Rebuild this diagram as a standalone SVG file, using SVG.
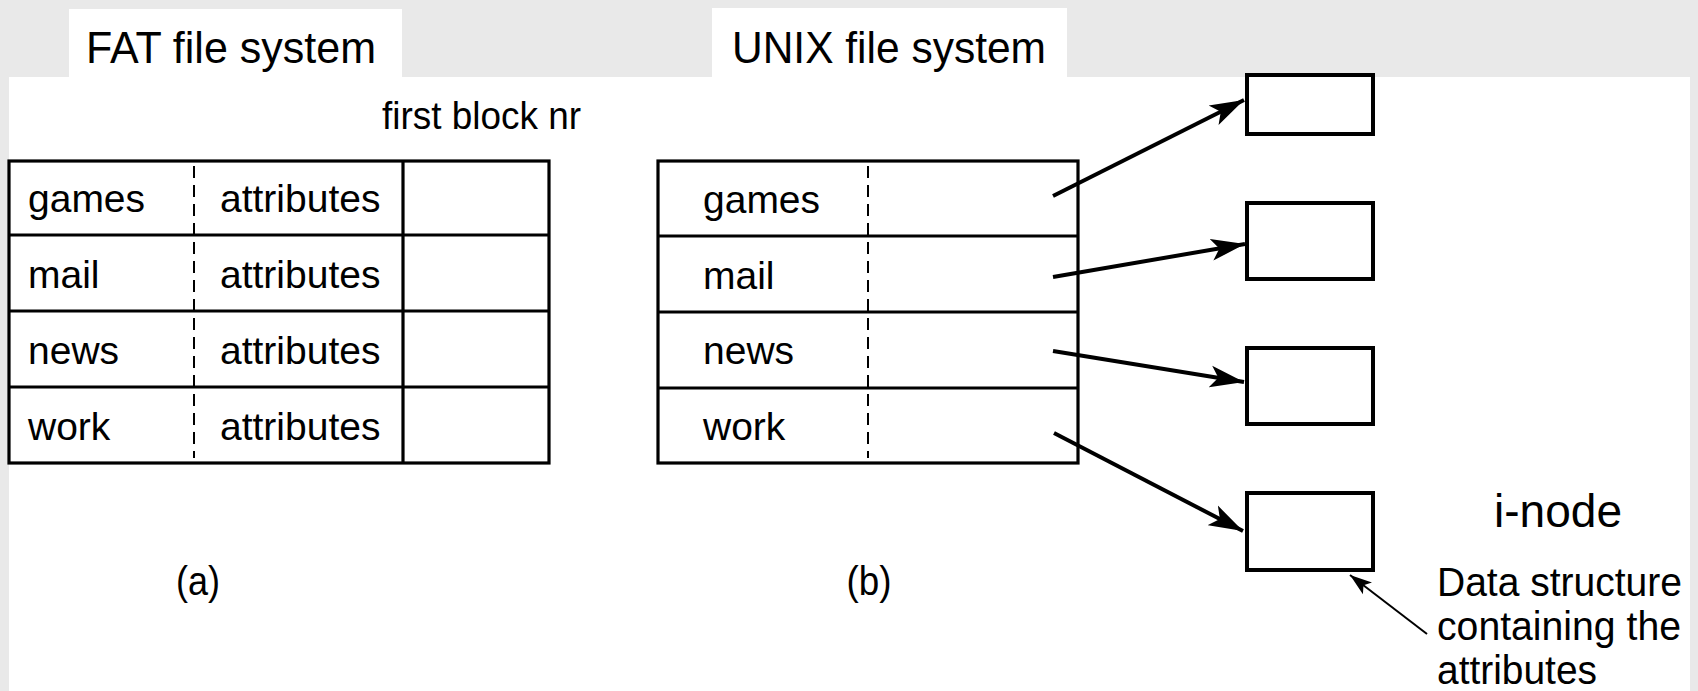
<svg xmlns="http://www.w3.org/2000/svg" width="1698" height="691" viewBox="0 0 1698 691">
<defs>
<style>
.bg{fill:#e9e9e9}
.panel{fill:#ffffff}
.t{font-family:"Liberation Sans",Arial,Helvetica,sans-serif;fill:#000}
.cell{fill:#fff;stroke:#000;stroke-width:3.2}
.grid{stroke:#000;stroke-width:3.2;fill:none}
.dash{stroke:#000;stroke-width:2;stroke-dasharray:12 7;fill:none}
.inode{fill:#fff;stroke:#000;stroke-width:4}
.arrow{stroke:#000;stroke-width:4;fill:none;marker-end:url(#headBig)}
.thin{stroke:#000;stroke-width:2;fill:none;marker-end:url(#headSmall)}
</style>
<marker id="headBig" markerUnits="userSpaceOnUse" markerWidth="36" markerHeight="24" refX="34" refY="11" orient="auto" viewBox="0 0 36 22">
<path d="M0,0 L34,11 L0,22 L8,11 z" fill="#000"/>
</marker>
<marker id="headSmall" markerUnits="userSpaceOnUse" markerWidth="24" markerHeight="16" refX="22" refY="7.5" orient="auto" viewBox="0 0 24 15">
<path d="M0,0 L22,7.5 L0,15 L5,7.5 z" fill="#000"/>
</marker>
</defs>
<rect class="bg" x="0" y="0" width="1698" height="691"/>
<rect class="panel" x="9" y="77" width="1681" height="614"/>

<g id="tab-fat">
<rect class="panel" x="69" y="9" width="333" height="69"/>
<text class="t" x="86" y="63" font-size="45" textLength="290" lengthAdjust="spacingAndGlyphs">FAT file system</text>
</g>
<g id="tab-unix">
<rect class="panel" x="712" y="8" width="355" height="70"/>
<text class="t" x="732" y="63" font-size="45" textLength="314" lengthAdjust="spacingAndGlyphs">UNIX file system</text>
</g>

<g id="label-first-block">
<text class="t" x="382" y="129" font-size="38" textLength="199" lengthAdjust="spacingAndGlyphs">first block nr</text>
</g>

<g id="fat-table">
<rect class="cell" x="9" y="161" width="540" height="302"/>
<line class="grid" x1="9" y1="235" x2="549" y2="235"/>
<line class="grid" x1="9" y1="311" x2="549" y2="311"/>
<line class="grid" x1="9" y1="387" x2="549" y2="387"/>
<line class="grid" x1="403" y1="161" x2="403" y2="463"/>
<line class="dash" x1="194" y1="166" x2="194" y2="458"/>
<text class="t" x="28" y="212" font-size="39">games</text>
<text class="t" x="28" y="288" font-size="39">mail</text>
<text class="t" x="28" y="364" font-size="39">news</text>
<text class="t" x="28" y="440" font-size="39">work</text>
<text class="t" x="220" y="212" font-size="39">attributes</text>
<text class="t" x="220" y="288" font-size="39">attributes</text>
<text class="t" x="220" y="364" font-size="39">attributes</text>
<text class="t" x="220" y="440" font-size="39">attributes</text>
</g>

<g id="unix-table">
<rect class="cell" x="658" y="161" width="420" height="302"/>
<line class="grid" x1="658" y1="236" x2="1078" y2="236"/>
<line class="grid" x1="658" y1="312" x2="1078" y2="312"/>
<line class="grid" x1="658" y1="388" x2="1078" y2="388"/>
<line class="dash" x1="868" y1="166" x2="868" y2="458"/>
<text class="t" x="703" y="213" font-size="39">games</text>
<text class="t" x="703" y="289" font-size="39">mail</text>
<text class="t" x="703" y="364" font-size="39">news</text>
<text class="t" x="703" y="440" font-size="39">work</text>
</g>

<g id="inode-1"><rect class="inode" x="1247" y="75" width="126" height="59"/></g>
<g id="inode-2"><rect class="inode" x="1247" y="203" width="126" height="76"/></g>
<g id="inode-3"><rect class="inode" x="1247" y="348" width="126" height="76"/></g>
<g id="inode-4"><rect class="inode" x="1247" y="493" width="126" height="77"/></g>

<g id="label-inode">
<text class="t" x="1494" y="527" font-size="47" textLength="128" lengthAdjust="spacingAndGlyphs">i-node</text>
</g>
<g id="label-data-structure">
<text class="t" x="1437" y="596" font-size="40" textLength="245" lengthAdjust="spacingAndGlyphs">Data structure</text>
<text class="t" x="1437" y="640" font-size="40" textLength="244" lengthAdjust="spacingAndGlyphs">containing the</text>
<text class="t" x="1437" y="684" font-size="40" textLength="160" lengthAdjust="spacingAndGlyphs">attributes</text>
</g>

<g id="label-a"><text class="t" x="198" y="595" font-size="40" text-anchor="middle" textLength="44" lengthAdjust="spacingAndGlyphs">(a)</text></g>
<g id="label-b"><text class="t" x="869" y="595" font-size="40" text-anchor="middle" textLength="45" lengthAdjust="spacingAndGlyphs">(b)</text></g>

<g id="connectors">
<line class="arrow" x1="1053" y1="196" x2="1244" y2="100"/>
<line class="arrow" x1="1053" y1="277" x2="1245" y2="244"/>
<line class="arrow" x1="1053" y1="351" x2="1244" y2="382"/>
<line class="arrow" x1="1054" y1="433" x2="1243" y2="531"/>
<line class="thin" x1="1427" y1="634" x2="1350" y2="575"/>
</g>
</svg>
